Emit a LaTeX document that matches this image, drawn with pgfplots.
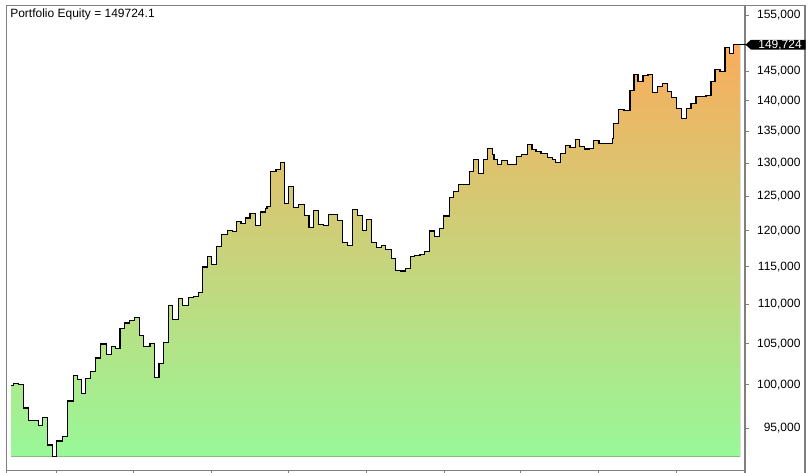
\documentclass[border=0pt]{standalone}
\usepackage{pgfplots}
\pgfplotsset{compat=1.18}
\usepackage{pgfplotstable}
\usepgfplotslibrary{fillbetween}
\usepackage{fontspec}
\setmainfont{Liberation Sans}

\definecolor{eqgreen}{RGB}{152,248,152}
\definecolor{eqorange}{RGB}{250,172,92}
\definecolor{framegray}{RGB}{128,128,128}

% portfolio equity, one row per step (x in screen position, y in $)
\pgfplotstableread{
x y
11 99950
13.3 100190
18.3 100070
23.3 97300
28.3 95910
38.3 95330
42.7 96210
47.7 93130
52.3 91840
56.7 93560
62.3 94110
67.7 98110
73.3 101160
77.3 100680
81.7 98980
85.7 100750
90.7 101560
95.7 103230
100.7 104960
106.7 103710
111.7 104680
115.7 104440
120 106960
124.3 107600
129.3 107980
134.3 108360
139.3 105980
143.3 104680
150 105050
154.3 100920
159 102570
163.3 105180
168.5 109890
172.5 108100
178.5 110790
182.5 109890
188.5 110950
193.3 111080
198.3 111610
202.7 114990
207.3 116380
211.7 115360
216.7 117870
221.7 119540
227.7 120100
232.3 119960
236.7 121410
241 121120
245.7 121850
250 122570
255.3 120830
260.3 122720
265.3 123200
267 123490
270.3 128760
276 129020
280.7 130190
284.3 124030
288.3 126490
293.3 123390
298.7 123880
304.3 122230
309 120540
313.3 123010
318.3 120980
323.3 120830
328.3 122430
337.3 121460
342.5 118430
347.5 118010
352.3 123150
357.3 122280
362.3 120100
366.7 121700
371.7 118430
376.7 117670
381.3 117950
385.7 117350
391.3 116200
395.7 114550
401 114450
405.7 114810
410.7 116420
414.7 116620
420 116750
424.3 117170
429.3 120000
434.7 119260
439.3 120390
443.7 122140
449.3 124900
453.7 125800
458.7 126860
469.3 128820
473.3 130660
478.3 128410
483.3 130660
487.7 132320
492.7 131380
494 130550
497.3 129880
501.7 130500
507.3 129770
516.7 131020
521.7 131330
527.3 133010
532 132120
536 131800
541 131490
547.3 130860
552.3 130660
555.7 130080
560.7 131600
565.7 132850
570 132430
575.7 133790
579.3 132630
584.3 132230
589.3 132320
593.3 133640
599 133100
612.3 133890
613.7 136350
618.7 138630
624 138400
630 141790
634 144490
638 143310
643 144320
648 144490
652.7 141450
657.3 142400
662.7 142850
667.7 141500
671.7 140610
676.7 138730
681.7 137100
686.7 138790
691 139500
696 140710
706 140950
711 143240
715 145350
720 145000
725 149130
729.3 148150
733.3 149724
740 149724
}\equity

\begin{document}
\begin{tikzpicture}
\begin{axis}[
    at={(5.025pt,1.725pt)}, anchor=south west,
    scale only axis, width=553.725pt, height=348.9pt,
    set layers,
    xmin=6.7, xmax=745,
    ymode=log, ymin=90334, ymax=156755,
    axis line style={framegray, line width=0.9pt},
    tick align=outside, major tick length=3pt,
    tick style={framegray, line width=0.75pt},
    xtick pos=bottom, ytick pos=right, yticklabel pos=right,
    xtick={56,133,211,288,366,444,520,598,676}, xticklabels={},
    ytick={95000,100000,105000,110000,115000,120000,125000,130000,135000,140000,145000,155000},
    yticklabels={{95,000},{100,000},{105,000},{110,000},{115,000},{120,000},{125,000},{130,000},{135,000},{140,000},{145,000},{155,000}},
    minor ytick={},
    yticklabel style={font=\fontsize{9}{10.8}\selectfont, anchor=east, inner sep=0pt, xshift=38.8pt},
]
\addplot[name path=eq, const plot, black, line width=0.85pt] table {\equity};
\addplot[name path=base, draw=none, forget plot] coordinates {(11,91840) (740,91840)};
\addplot[draw=none, top color=eqorange, bottom color=eqgreen] fill between[of=eq and base];
\end{axis}
\pgfresetboundingbox
\useasboundingbox (0,0) rectangle (608.25pt,354.75pt);
\begin{scope}[x=0.75pt, y=-0.75pt, yshift=354.75pt]
  \draw[framegray, line width=0.9pt] (6.7,473) -- (6.7,5.5) -- (805,5.5) -- (805,473);
  \draw[framegray, line width=0.9pt] (745,5.5) -- (745,473);
  \draw[black, line width=0.75pt] (740,44.7) -- (746,44.7);
  \fill[black] (745.5,44.7) -- (751,39.8) -- (805.5,39.8) -- (805.5,49.6) -- (751,49.6) -- cycle;
  \node[anchor=east, inner sep=0pt, text=white, font=\fontsize{9}{10.8}\selectfont] at (802,44.9) {149,724};
  \node[anchor=base west, inner sep=0pt, font=\fontsize{9}{10.8}\selectfont] at (10,17.5) {Portfolio Equity = 149724.1};
\end{scope}
\end{tikzpicture}
\end{document}
